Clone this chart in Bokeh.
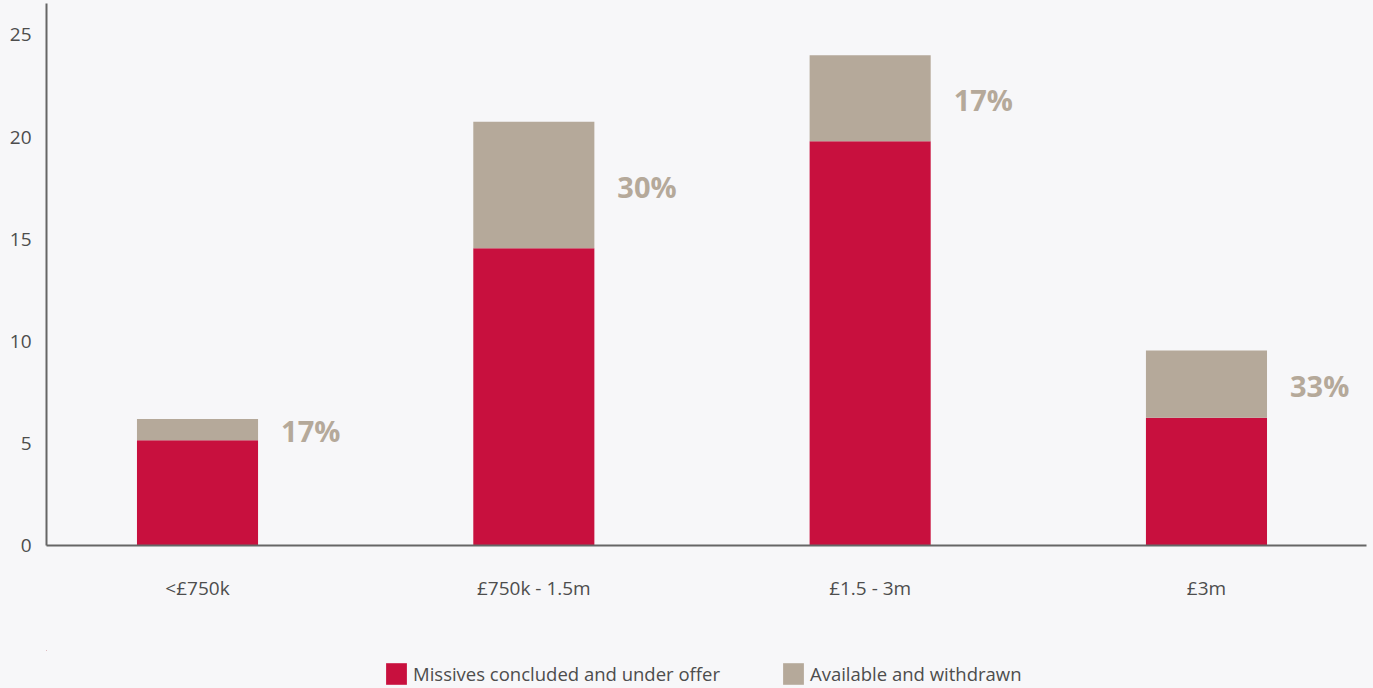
from bokeh.plotting import figure
from bokeh.models import (ColumnDataSource, Range1d, FixedTicker, Legend, LegendItem)
from bokeh.layouts import column
from bokeh.core.properties import value
from bokeh.embed import file_html
from bokeh.resources import INLINE

categories = ["<£750k", "£750k - 1.5m", "£1.5 - 3m", "£3m"]
missives = [5.15, 14.55, 19.8, 6.25]
available = [1.05, 6.2, 4.2, 3.3]
pct_labels = ["17%", "30%", "17%", "33%"]
y_ticks = [0, 5, 10, 15, 20, 25]
series_names = ["Missives concluded and under offer", "Available and withdrawn"]

RED = "#c8103e"
GREY = "#b5a99a"
TEXT = "#4d4d4d"
AXIS = "#666666"
BG = "#f7f7f9"
FONT = "Open Sans"
BAR_W = 0.36

xs = list(range(len(categories)))
tops = [m + a for m, a in zip(missives, available)]
src = ColumnDataSource(dict(
    x=xs,
    missives=missives,
    available=available,
    tops=tops,
    lab_x=[x + BAR_W / 2 for x in xs],
    lab_y=[m + a / 2 for m, a in zip(missives, available)],
    pct=pct_labels,
))

# ---------------- main chart ----------------
p = figure(width=1373, height=650, output_backend="svg", toolbar_location=None,
           x_range=Range1d(-0.449, 3.4758), y_range=Range1d(0, 26.54),
           min_border_left=46, min_border_right=7, min_border_top=3, min_border_bottom=105,
           background_fill_color=BG, border_fill_color=BG, outline_line_color=None)

p.vbar(x="x", bottom=0, top="missives", width=BAR_W, source=src,
       fill_color=RED, line_color=None)
p.vbar(x="x", bottom="missives", top="tops", width=BAR_W, source=src,
       fill_color=GREY, line_color=None)

p.text(x="lab_x", y="lab_y", text="pct", source=src, x_offset=23, y_offset=1,
       text_font=value(FONT), text_font_style="bold", text_font_size="29px",
       text_color=GREY, text_align="left", text_baseline="middle")

p.xgrid.visible = False
p.ygrid.visible = False

xa = p.xaxis[0]
xa.ticker = FixedTicker(ticks=xs)
xa.major_label_overrides = {i: c for i, c in zip(xs, categories)}
xa.major_tick_line_color = None
xa.minor_tick_line_color = None
xa.major_tick_out = 0
xa.major_tick_in = 0
xa.major_label_standoff = 29
xa.axis_line_color = AXIS
xa.axis_line_width = 2
xa.major_label_text_font = FONT
xa.major_label_text_font_size = "19px"
xa.major_label_text_color = TEXT

ya = p.yaxis[0]
ya.ticker = FixedTicker(ticks=y_ticks)
ya.major_tick_line_color = None
ya.minor_tick_line_color = None
ya.major_tick_out = 0
ya.major_tick_in = 0
ya.major_label_standoff = 15
ya.axis_line_color = AXIS
ya.axis_line_width = 2
ya.major_label_text_font = FONT
ya.major_label_text_font_size = "19px"
ya.major_label_text_color = TEXT

# ---------------- legend strip ----------------
lg = figure(width=1373, height=38, output_backend="svg", toolbar_location=None,
            x_axis_location=None, y_axis_location=None,
            x_range=Range1d(100, 101), y_range=Range1d(-2, -1),
            min_border_left=0, min_border_right=0, min_border_top=0, min_border_bottom=0,
            background_fill_color=BG, border_fill_color=BG, outline_line_color=None)
lg.grid.visible = False
l1 = lg.vbar(x="x", bottom=0, top="missives", width=BAR_W, source=src,
             fill_color=RED, line_color=None)
l2 = lg.vbar(x="x", bottom="missives", top="tops", width=BAR_W, source=src,
             fill_color=GREY, line_color=None)

legend = Legend(items=[LegendItem(label=series_names[0], renderers=[l1]),
                       LegendItem(label=series_names[1], renderers=[l2])],
                location=(337, 1), orientation="horizontal",
                padding=0, margin=0, spacing=60, glyph_width=26, glyph_height=27,
                label_height=27, label_standoff=4,
                label_text_font=FONT, label_text_font_size="18.5px",
                label_text_color=TEXT, label_text_baseline="middle",
                background_fill_alpha=0, border_line_alpha=0)
lg.add_layout(legend, "center")

layout = column(p, lg, spacing=0, styles={"background-color": BG})
open("out.html", "w").write(file_html(layout, INLINE))
